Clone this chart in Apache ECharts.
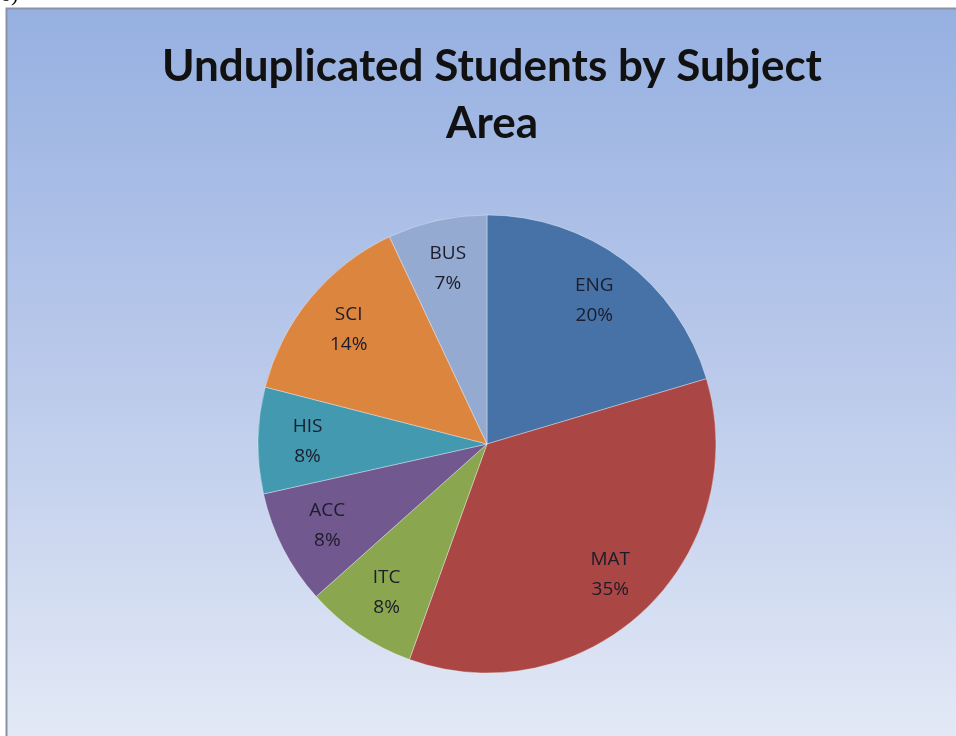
<!DOCTYPE html>
<html>
<head>
<meta charset="utf-8">
<script src="https://cdn.jsdelivr.net/npm/echarts@6/dist/echarts.min.js"></script>
<style>
html,body{margin:0;padding:0;background:#fff;}
#c{width:956px;height:736px;}
</style>
</head>
<body>
<div id="c"></div>
<script>
const categories = ['ENG', 'MAT', 'ITC', 'ACC', 'HIS', 'SCI', 'BUS'];
const shares = [20.4, 35.1, 7.9, 8.1, 7.5, 14.0, 7.0];
const sliceColors = ['#4672a8', '#aa4643', '#8aa74f', '#71588f', '#4299b0', '#dc853e', '#94aad0'];
const titleText = 'Unduplicated Students by Subject\nArea';

const data = categories.map((n, i) => ({ name: n, value: shares[i], itemStyle: { color: sliceColors[i] } }));
const chart = echarts.init(document.getElementById('c'));
const center = [487, 444];
const R = 229;
chart.setOption({
  backgroundColor: '#ffffff',
  animation: false,
  graphic: [
    { type: 'text', left: 0, top: -16, style: { text: '6)', font: '22px "Liberation Serif"', fill: '#000' }, z: 10 },
    { type: 'rect', shape: { x: 6.5, y: 8.5, width: 960, height: 740 },
      style: { fill: new echarts.graphic.LinearGradient(0, 0, 0, 1, [
        { offset: 0, color: '#96b0e1' }, { offset: 0.5, color: '#bbcaeb' }, { offset: 1, color: '#e4eaf6' }]),
        stroke: '#8a93a3', lineWidth: 2 }, z: -10 }
  ],
  title: {
    text: titleText, left: 487, top: 33, textAlign: 'center',
    textStyle: { fontFamily: 'Lato', fontWeight: 'bold', fontSize: 44, lineHeight: 57, color: '#111' }
  },
  series: [
    { type: 'pie', center: center, radius: [0, R], startAngle: 90, clockwise: true,
      data: data, label: { show: false }, labelLine: { show: false },
      itemStyle: { borderColor: 'rgba(255,255,255,0.35)', borderWidth: 1 }, silent: true },
    { type: 'pie', center: center, radius: [124, R], startAngle: 90, clockwise: true,
      data: categories.map((n, i) => ({ name: n, value: shares[i] })),
      itemStyle: { color: 'rgba(0,0,0,0)' }, silent: true, labelLine: { show: false },
      label: { show: true, position: 'inside', color: '#1c1c2a', fontFamily: 'Open Sans', fontSize: 19, lineHeight: 30,
        formatter: p => p.name + '\n' + Math.round(p.value) + '%' } }
  ]
});
</script>
</body>
</html>
